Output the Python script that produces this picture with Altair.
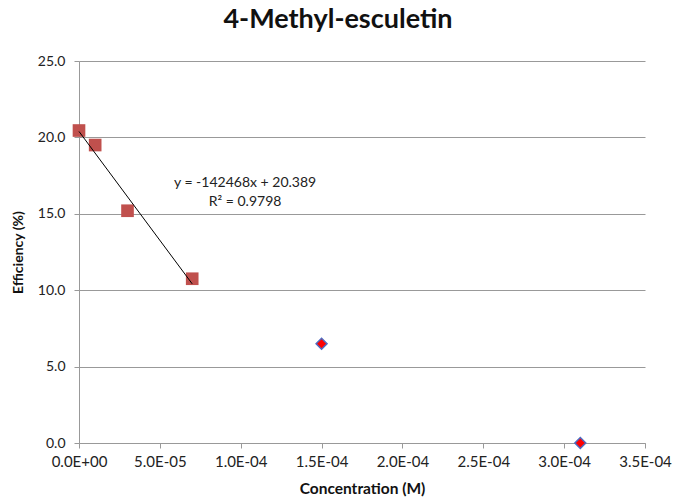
import altair as alt
import pandas as pd

# Measured efficiency vs. concentration
conc_fit = [0.0, 1.0e-5, 3.0e-5, 7.0e-5]
eff_fit = [20.45, 19.5, 15.2, 10.75]
conc_out = [1.5e-4, 3.1e-4]
eff_out = [6.5, 0.0]

# Linear trend reported for the first four points
slope = -142468
intercept = 20.389
trend_x = [0.0, 7.0e-5]

x_tick_values = [0.0, 5e-5, 1e-4, 1.5e-4, 2e-4, 2.5e-4, 3e-4, 3.5e-4]
x_tick_labels = ["0.0E+00", "5.0E-05", "1.0E-04", "1.5E-04",
                 "2.0E-04", "2.5E-04", "3.0E-04", "3.5E-04"]

FONT = "Lato"

fit_df = pd.DataFrame({"conc": conc_fit, "eff": eff_fit})
out_df = pd.DataFrame({"conc": conc_out, "eff": eff_out})
trend_df = pd.DataFrame({"conc": trend_x,
                         "eff": [slope * x + intercept for x in trend_x]})
label_df = pd.DataFrame({
    "conc": [1.027e-4, 1.027e-4],
    "eff": [17.02, 15.77],
    "txt": [f"y = {slope}x + {intercept}", "R\u00b2 = 0.9798"],
})

label_expr = (
    "[" + ",".join(f"'{s}'" for s in x_tick_labels) + "][round(datum.value / 5e-5)]"
)

x_enc = alt.X(
    "conc:Q",
    scale=alt.Scale(domain=[0, 3.5e-4], nice=False, zero=False),
    axis=alt.Axis(
        title="Concentration (M)",
        values=x_tick_values,
        labelExpr=label_expr,
        labelFlush=False,
        grid=False,
        domainColor="#999999",
        tickColor="#999999",
        tickSize=5,
        labelFontSize=15,
        labelColor="#222222",
        labelPadding=6,
        titleFontSize=15.5,
        titleFontWeight="bold",
        titleColor="#111111",
        titlePadding=12,
        labelFont=FONT,
        titleFont=FONT,
    ),
)
y_enc = alt.Y(
    "eff:Q",
    scale=alt.Scale(domain=[0, 25], nice=False),
    axis=alt.Axis(
        title="Efficiency (%)",
        values=[0, 5, 10, 15, 20, 25],
        format=".1f",
        grid=True,
        gridColor="#999999",
        domainColor="#999999",
        tickColor="#999999",
        tickSize=5,
        labelFontSize=14,
        labelColor="#222222",
        labelPadding=9,
        titleFontSize=14,
        titleFontWeight="bold",
        titleColor="#111111",
        titlePadding=12,
        labelFont=FONT,
        titleFont=FONT,
    ),
)

squares = alt.Chart(fit_df).mark_point(
    shape="square", filled=True, size=160, color="#C0504D", opacity=1
).encode(x=x_enc, y=y_enc)

trend = alt.Chart(trend_df).mark_line(color="#000000", strokeWidth=1).encode(
    x="conc:Q", y="eff:Q"
)

diamonds = alt.Chart(out_df).mark_point(
    shape="diamond", filled=True, size=120, fill="#FF0000",
    stroke="#4F6BC0", strokeWidth=1.5, opacity=1
).encode(x="conc:Q", y="eff:Q")

labels = alt.Chart(label_df).mark_text(
    font=FONT, fontSize=14, color="#222222", align="center", baseline="middle"
).encode(x="conc:Q", y="eff:Q", text="txt:N")

chart = (
    alt.layer(squares, trend, diamonds, labels)
    .properties(
        width=566,
        height=382,
        title=alt.TitleParams(
            "4-Methyl-esculetin", font=FONT, fontSize=27, fontWeight="bold",
            color="#111111", anchor="middle", offset=20, dx=-24,
        ),
        autosize=alt.AutoSizeParams(type="none"),
        padding={"left": 79, "top": 61, "right": 28, "bottom": 57},
        background="white",
    )
    .configure_view(stroke=None)
)

chart.save("out.html", embed_options={"renderer": "svg", "actions": False})
